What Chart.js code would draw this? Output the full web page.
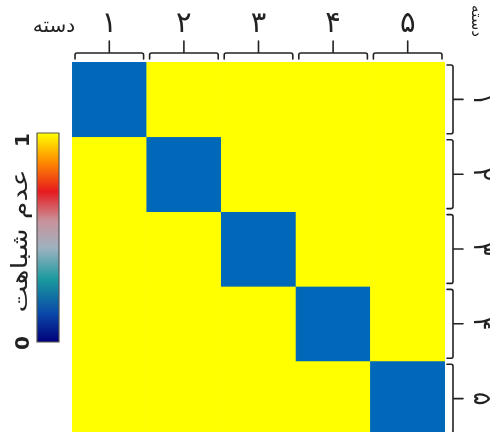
<!DOCTYPE html>
<html>
<head>
<meta charset="utf-8">
<script src="https://cdn.jsdelivr.net/npm/chart.js@4/dist/chart.umd.min.js"></script>
<style>
html,body{margin:0;padding:0;background:#fff;overflow:hidden;width:496px;height:432px;}
canvas{display:block;}
</style>
</head>
<body>
<canvas id="c" width="496" height="436"></canvas>
<script>
// ---- data ----
const categories = ['۱', '۲', '۳', '۴', '۵'];
const axisTitle = 'دسته';
const colorbarTitle = 'عدم شباهت';
const colorbarTicks = ['0', '1'];
const row1 = [0, 1, 1, 1, 1];
const row2 = [1, 0, 1, 1, 1];
const row3 = [1, 1, 0, 1, 1];
const row4 = [1, 1, 1, 0, 1];
const row5 = [1, 1, 1, 1, 0];
const rows = [row1, row2, row3, row4, row5];

// ---- styles ----
const lowColor = '#0068b9';
const highColor = '#ffff00';
const paletteStops = [
  [0.00, '#00007a'], [0.14, '#0a4aa8'], [0.30, '#1a9a9e'], [0.45, '#9fb2c0'],
  [0.58, '#c8929a'], [0.72, '#e61a1e'], [0.86, '#ff8a00'], [1.00, '#ffff00']
];
const ink = '#222';
const FONT = '"DejaVu Sans", sans-serif';

function cellColor(v) { return v < 0.5 ? lowColor : highColor; }

const datasets = rows.map((r, i) => ({
  label: 'row ' + (i + 1),
  data: r.map(() => 1),
  backgroundColor: r.map(cellColor),
  borderColor: r.map(cellColor),
  borderWidth: 0.6,
  borderSkipped: false,
  categoryPercentage: 1,
  barPercentage: 1,
  stack: 's'
}));

const decor = {
  id: 'decor',
  afterDraw(chart) {
    const ctx = chart.ctx;
    const xs = chart.scales.x, ys = chart.scales.y;
    ctx.save();
    ctx.strokeStyle = ink; ctx.fillStyle = ink; ctx.lineWidth = 1.6;
    ctx.lineCap = 'round'; ctx.lineJoin = 'round';
    // top brackets + labels
    const colW = (xs.right - xs.left) / categories.length;
    categories.forEach((c, i) => {
      const cx = xs.getPixelForValue(i);
      const l = cx - colW / 2 + 3, r = cx + colW / 2 - 3;
      const yb = 53, yh = 59;
      ctx.beginPath();
      ctx.moveTo(l, yh); ctx.lineTo(l, yb + 2); ctx.quadraticCurveTo(l, yb, l + 2, yb);
      ctx.lineTo(r - 2, yb); ctx.quadraticCurveTo(r, yb, r, yb + 2); ctx.lineTo(r, yh);
      ctx.moveTo(cx, yb); ctx.lineTo(cx, 41);
      ctx.stroke();
      ctx.font = '29px ' + FONT; ctx.textAlign = 'center'; ctx.textBaseline = 'middle';
      ctx.fillText(c, cx, 24);
    });
    ctx.font = '20px ' + FONT; ctx.textAlign = 'center'; ctx.textBaseline = 'middle';
    ctx.fillText(axisTitle, 54, 27);
    // right brackets + labels
    const rowH = Math.abs(ys.getPixelForValue(1) - ys.getPixelForValue(0));
    categories.forEach((c, i) => {
      const cy = ys.getPixelForValue(i + 0.5);
      const t = cy - rowH / 2 + 3, b = cy + rowH / 2 - 3;
      const xb = 453, xh = 447;
      ctx.beginPath();
      ctx.moveTo(xh, t); ctx.lineTo(xb - 2, t); ctx.quadraticCurveTo(xb, t, xb, t + 2);
      ctx.lineTo(xb, b - 2); ctx.quadraticCurveTo(xb, b, xb - 2, b); ctx.lineTo(xh, b);
      ctx.moveTo(xb, cy); ctx.lineTo(463, cy);
      ctx.stroke();
      ctx.save();
      ctx.translate(480, cy); ctx.rotate(Math.PI / 2);
      ctx.font = '25px ' + FONT; ctx.textAlign = 'center'; ctx.textBaseline = 'middle';
      ctx.fillText(c, 0, 0);
      ctx.restore();
    });
    ctx.save();
    ctx.translate(476, 21); ctx.rotate(Math.PI / 2);
    ctx.font = '15px ' + FONT; ctx.textAlign = 'center'; ctx.textBaseline = 'middle';
    ctx.fillText(axisTitle, 0, 0);
    ctx.restore();
    // colorbar
    const bx = 37, bw = 22, by = 133, bh = 209;
    const g = ctx.createLinearGradient(0, by + bh, 0, by);
    paletteStops.forEach(s => g.addColorStop(s[0], s[1]));
    ctx.fillStyle = g; ctx.fillRect(bx, by, bw, bh);
    ctx.strokeStyle = '#555'; ctx.lineWidth = 1.2; ctx.strokeRect(bx, by, bw, bh);
    ctx.fillStyle = ink;
    ctx.font = 'bold 20px ' + FONT; ctx.textAlign = 'center'; ctx.textBaseline = 'middle';
    [[colorbarTicks[1], 140], [colorbarTicks[0], 343]].forEach(([t, y]) => {
      ctx.save(); ctx.translate(24, y); ctx.rotate(-Math.PI / 2); ctx.fillText(t, 0, 0); ctx.restore();
    });
    ctx.save();
    ctx.translate(21, 241); ctx.rotate(-Math.PI / 2);
    ctx.font = '22px ' + FONT;
    const w = ctx.measureText(colorbarTitle).width;
    const s = 143 / w;
    ctx.scale(s, 1);
    ctx.fillText(colorbarTitle, 0, 0);
    ctx.restore();
    ctx.restore();
  }
};

new Chart(document.getElementById('c'), {
  type: 'bar',
  data: { labels: categories, datasets },
  options: {
    responsive: false,
    animation: false,
    layout: { padding: { left: 72, top: 62, right: 51, bottom: 0 } },
    plugins: { legend: { display: false }, tooltip: { enabled: false } },
    scales: {
      x: { display: false, stacked: true, offset: true },
      y: { display: false, stacked: true, reverse: true, min: 0, max: 5 }
    }
  },
  plugins: [decor]
});
</script>
</body>
</html>
